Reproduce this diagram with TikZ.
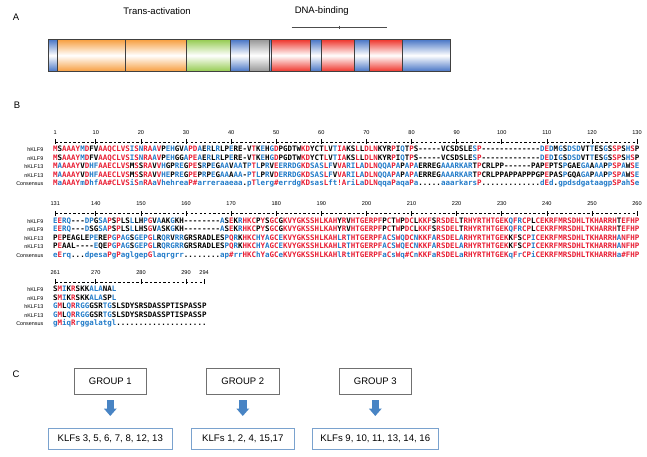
\documentclass[tikz,border=0pt]{standalone}
\usepackage{fontspec}
\setmainfont{Liberation Sans}
\setmonofont{DejaVu Sans Mono}
\usetikzlibrary{arrows.meta,positioning}
\definecolor{segBlue}{RGB}{68,114,196}
\definecolor{segOrange}{RGB}{247,156,58}
\definecolor{segGreen}{RGB}{146,202,76}
\definecolor{segGray}{RGB}{148,148,148}
\definecolor{segRed}{RGB}{238,48,38}
\definecolor{alnRed}{RGB}{232,30,52}
\definecolor{alnBlue}{RGB}{32,122,200}
\definecolor{boxGray}{RGB}{112,112,112}
\definecolor{boxBlue}{RGB}{122,162,206}
\definecolor{arrowBlue}{RGB}{72,132,196}

\ExplSyntaxOn
\str_new:N \l__aln_a_str
\str_new:N \l__aln_b_str
\str_new:N \l__aln_c_str
\str_new:N \l__aln_d_str
\str_new:N \l__aln_cons_str
\str_new:N \l__aln_set_str
\str_new:N \l__aln_k_str
\str_new:N \l__aln_r_str
\tl_new:N \l__aln_hue_tl
\tl_new:N \l__aln_glyph_tl
\int_new:N \l__aln_hits_int

\cs_new_protected:Npn \__aln_set:n #1
  {
    \str_case:nnF {#1}
      {
        { ! } { \str_set:Nn \l__aln_set_str { IV } }
        { * } { \str_set:Nn \l__aln_set_str { NDQEBZ } }
        { . } { \str_clear:N \l__aln_set_str }
      }
      { \str_set:Nx \l__aln_set_str { \str_uppercase:n {#1} } }
  }

\prg_new_protected_conditional:Npnn \__aln_match:n #1 { TF }
  {
    \tl_if_blank:nTF {#1}
      { \prg_return_false: }
      {
        \str_if_in:NnTF \l__aln_set_str {#1}
          { \prg_return_true: } { \prg_return_false: }
      }
  }
\prg_generate_conditional_variant:Nnn \__aln_match:n { V } { TF }

\cs_new_protected:Npn \__aln_hue:n #1
  {
    \str_if_eq:eeTF { #1 } { \str_lowercase:n {#1} }
      {
        \str_if_eq:eeTF { #1 } { \str_uppercase:n {#1} }
          {
            \str_if_eq:nnTF {#1} { . }
              { \tl_set:Nn \l__aln_hue_tl { black } }
              {
                \int_compare:nNnTF \l__aln_hits_int = 4
                  { \tl_set:Nn \l__aln_hue_tl { alnRed } }
                  { \tl_set:Nn \l__aln_hue_tl { alnBlue } }
              }
          }
          { \tl_set:Nn \l__aln_hue_tl { alnBlue } }
      }
      { \tl_set:Nn \l__aln_hue_tl { alnRed } }
  }

\cs_new_protected:Npn \__aln_count:Nn #1#2
  {
    \str_set:Nx \l__aln_r_str { \str_item:Nn #1 {#2} }
    \__aln_match:VTF \l__aln_r_str { \int_incr:N \l__aln_hits_int } { }
  }

\cs_new_protected:Npn \__aln_put:NNn #1#2#3
  {
    \str_set:Nx \l__aln_r_str { \str_item:Nn #1 {#3} }
    \__aln_match:VTF \l__aln_r_str
      { \tl_gput_right:Nx #2 { \exp_not:N \textcolor { \l__aln_hue_tl } { \l__aln_r_str } } }
      { \tl_gput_right:Nx #2 { \l__aln_r_str } }
  }
\cs_generate_variant:Nn \__aln_put:NNn { Nc }

\cs_new_protected:Npn \__aln_column:nn #1#2
  {
    \str_set:Nx \l__aln_k_str { \str_item:Nn \l__aln_cons_str {#2} }
    \exp_args:NV \__aln_set:n \l__aln_k_str
    \int_zero:N \l__aln_hits_int
    \__aln_count:Nn \l__aln_a_str {#2}
    \__aln_count:Nn \l__aln_b_str {#2}
    \__aln_count:Nn \l__aln_c_str {#2}
    \__aln_count:Nn \l__aln_d_str {#2}
    \exp_args:NV \__aln_hue:n \l__aln_k_str
    \__aln_put:Ncn \l__aln_a_str { g_aln_#1_a_tl } {#2}
    \__aln_put:Ncn \l__aln_b_str { g_aln_#1_b_tl } {#2}
    \__aln_put:Ncn \l__aln_c_str { g_aln_#1_c_tl } {#2}
    \__aln_put:Ncn \l__aln_d_str { g_aln_#1_d_tl } {#2}
    \str_if_eq:VnTF \l__aln_k_str { * }
      { \tl_set:Nn \l__aln_glyph_tl { \# } }
      { \tl_set_eq:NN \l__aln_glyph_tl \l__aln_k_str }
    \tl_gput_right:cx { g_aln_#1_e_tl }
      { \exp_not:N \textcolor { \l__aln_hue_tl } { \exp_not:V \l__aln_glyph_tl } }
  }

\NewDocumentCommand \AlnPrep { m m m m m m }
  {
    \str_set:Nn \l__aln_a_str {#2} \str_remove_all:Nn \l__aln_a_str { ~ }
    \str_set:Nn \l__aln_b_str {#3} \str_remove_all:Nn \l__aln_b_str { ~ }
    \str_set:Nn \l__aln_c_str {#4} \str_remove_all:Nn \l__aln_c_str { ~ }
    \str_set:Nn \l__aln_d_str {#5} \str_remove_all:Nn \l__aln_d_str { ~ }
    \str_set:Nn \l__aln_cons_str {#6} \str_remove_all:Nn \l__aln_cons_str { ~ }
    \tl_gclear_new:c { g_aln_#1_a_tl }
    \tl_gclear_new:c { g_aln_#1_b_tl }
    \tl_gclear_new:c { g_aln_#1_c_tl }
    \tl_gclear_new:c { g_aln_#1_d_tl }
    \tl_gclear_new:c { g_aln_#1_e_tl }
    \int_step_inline:nn { \str_count:N \l__aln_cons_str }
      { \__aln_column:nn {#1} {##1} }
  }
\NewDocumentCommand \AlnRow { m m } { \tl_use:c { g_aln_#1_#2_tl } }
\ExplSyntaxOff

% the alignment, ten residues a chunk; * stands for the # of the consensus
\AlnPrep{1}
 {MSAAAYMDFV AAQCLVSISN RAAVPEHGVA PDAERLRLPE RE-VTKEHGD PGDTWKDYCT LVTIAKSLLD LNKYRPIQTP S-----VCSD SLESP----- --------DE DMGSDSDVTT ESGSSPSHSP}
 {MSAAAYMDFV AAQCLVSISN RAAVPEHGGA PEAERLRLPE RE-VTKEHGD PGDTWKDYCT LVTIAKSLLD LNKYRPIQTP S-----VCSD SLESP----- --------DE DIGSDSDVTT ESGSSPSHSP}
 {MAAAAYVDHF AAECLVSMSS RAVVHGPREG PESRPEGAAV AATPTLPRVE ERRDGKDSAS LFVVARILAD LNQQAPAPAP AERREGAAAR KARTPCRLPP ------PAPE PTSPGAEGAA AAPPSPAWSE}
 {MAAAAYVDHF AAECLVSMSS RAVVHEPREG PEPRPEGAAA AA-PTLPRVD ERRDGKDSAS LFVVARILAD LNQQAPAPAP AERREGAAAR KARTPCRLPP APPAPPPGPE PASPGQAGAP AAPPSPAWSE}
 {MaAAAYmDhf AA*CLVSiSn RAaVhehrea P*arreraae aa.pTlerg* errdgKDsas Lft!AriLaD LNqqaPaqaP a.....aaar karsP..... ........dE d.gpdsdgat aagpSPahSe}
\AlnPrep{2}
 {EERQ---DPG SAPSPLSLLH PGVAAKGKH- -------ASE KRHKCPYSGC GKVYGKSSHL KAHYRVHTGE RPFPCTWPDC LKKFSRSDEL TRHYRTHTGE KQFRCPLCEK RFMRSDHLTK HARRHTEFHP}
 {EERQ---DSG SAPSPLSLLH SGVASKGKH- -------ASE KRHKCPYSGC GKVYGKSSHL KAHYRVHTGE RPFPCTWPDC LKKFSRSDEL TRHYRTHTGE KQFRCPLCEK RFMRSDHLTK HARRHTEFHP}
 {PEPEAGLEPE REPGPAGSGE PGLRQRVRRG RSRADLESPQ RKHKCHYAGC EKVYGKSSHL KAHLRTHTGE RPFACSWQDC NKKFARSDEL ARHYRTHTGE KKFSCPICEK RFMRSDHLTK HARRHANFHP}
 {PEAAL----E QEPGPAGSGE PGLRQRGRRG RSRADLESPQ RKHKCHYAGC EKVYGKSSHL KAHLRTHTGE RPFACSWQEC NKKFARSDEL ARHYRTHTGE KKFSCPICEK RFMRSDHLTK HARRHANFHP}
 {eErq...dpe saPgPaglge pGlaqrgrr. .......ap* rrHKChYaGC eKVYGKSSHL KAHlRtHTGE RPFaCsWq*C nKKFaRSDEL aRHYRTHTGE KqFrCPiCEK RFMRSDHLTK HARRHa*FHP}
\AlnPrep{3}
 {SMIKRSKKAL ANAL}
 {SMIKRSKKAL ASPL}
 {GMLQRRGGGS RTGSLSDYSR SDASSPTISP ASSP}
 {GMLQRRGGGS RTGSLSDYSR SDASSPTISP ASSP}
 {gMiqRrggal atgl...... .......... ....}

\begin{document}
\begin{tikzpicture}[x=1pt,y=-1pt,
  panel/.style={font=\fontsize{9.5}{11}\selectfont, inner sep=0},
  domaintext/.style={font=\fontsize{9.5}{11}\selectfont, inner sep=0},
  segline/.style={draw=black!75, line width=0.5pt},
  rowname/.style={font=\fontsize{5.4}{6}\selectfont, anchor=base east, inner sep=0},
  seqrow/.style={font=\fontsize{7.49}{8}\selectfont\ttfamily\bfseries, anchor=base west, inner sep=0},
  rulernum/.style={font=\fontsize{5.6}{6}\selectfont, anchor=base, inner sep=0},
  rulerline/.style={line width=0.5pt, dash pattern=on 2.4pt off 2.11pt},
  rulertick/.style={line width=0.7pt},
  groupbox/.style={draw=boxGray, line width=0.7pt, minimum width=72.5pt, minimum height=25.5pt, inner sep=0, font=\fontsize{9.5}{11}\selectfont},
  klfbox/.style={draw=boxBlue, line width=0.7pt, minimum height=21.7pt, inner sep=0, font=\fontsize{9.6}{11}\selectfont},
  blockarrow/.style={draw=arrowBlue, line width=7.5pt, -{Triangle[length=7.5pt,width=12.5pt]}, shorten <=6pt, shorten >=11.6pt}]
\useasboundingbox (0,0) rectangle (647,456);

\node[panel] (labA) at (16,17) {A};
\node[panel] (labB) at (17,105) {B};
\node[panel] (labC) at (16,374) {C};

% panel A
\foreach \xa/\xb/\hue in {48.3/57.3/segBlue,57.3/125/segOrange,125/186.7/segOrange,186.7/230/segGreen,230/249.3/segBlue,249.3/269.3/segGray,269.3/271.3/segBlue,271.3/310/segRed,310/321/segBlue,321/354.3/segRed,354.3/369/segBlue,369/402.7/segRed,402.7/450.7/segBlue}{
  \shade[top color=\hue, bottom color=\hue, middle color=white] (\xa,39) rectangle (\xb,71.7);
  \draw[segline] (\xa,39) rectangle (\xb,71.7);
}
\node[domaintext] (trans) at (157,10.8) {Trans-activation};
\node[domaintext] (dnab) at (321.7,10.8) {DNA-binding};
\draw[black!70, line width=0.5pt] (291.7,27.3) -- (387.3,27.3);
\draw[black!70, line width=0.5pt] (339.3,25.6) -- (339.3,29);

% panel B
\foreach \blk/\yb/\first/\len/\marks in
  {1/151.7/1/130/{1,10,20,30,40,50,60,70,80,90,100,110,120,130},
   2/223.2/131/130/{131,140,150,160,170,180,190,200,210,220,230,240,250,260},
   3/291.7/261/34/{261,270,280,290,294}}{
  \foreach \rw/\nm [count=\ix from 0] in {a/hKLF9,b/nKLF9,c/hKLF13,d/nKLF13,e/Consensus}{
    \node[rowname] (nm\blk\rw) at (43.5,\yb+8.5*\ix) {\nm};
    \node[seqrow] (sq\blk\rw) at (53,\yb+8.5*\ix) {\AlnRow{\blk}{\rw}};
  }
  \draw[rulerline] (55.25,\yb-9.8) -- ({53+(\len-0.5)*4.51},\yb-9.8);
  \foreach \m in \marks{
    \node[rulernum] (rn\m) at ({53+(\m-\first+0.5)*4.51},\yb-17.5) {\m};
    \draw[rulertick] ({53+(\m-\first+0.5)*4.51},\yb-12.3) -- ({53+(\m-\first+0.5)*4.51},\yb-7.3);
  }
}

% panel C
\node[groupbox] (g1) at (110.3,381.2) {GROUP 1};
\node[groupbox, right=59.3pt of g1] (g2) {GROUP 2};
\node[groupbox, right=59.3pt of g2] (g3) {GROUP 3};
\node[klfbox, minimum width=124.4pt, below=33.3pt of g1] (k1) {KLFs 3, 5, 6, 7, 8, 12, 13};
\node[klfbox, minimum width=103.6pt, below=33.3pt of g2] (k2) {KLFs 1, 2, 4, 15,17};
\node[klfbox, minimum width=126pt, below=33.3pt of g3] (k3) {KLFs 9, 10, 11, 13, 14, 16};
\foreach \i in {1,2,3}
  \draw[blockarrow] (g\i.south) -- (g\i.south |- k\i.north);
\end{tikzpicture}
\end{document}
